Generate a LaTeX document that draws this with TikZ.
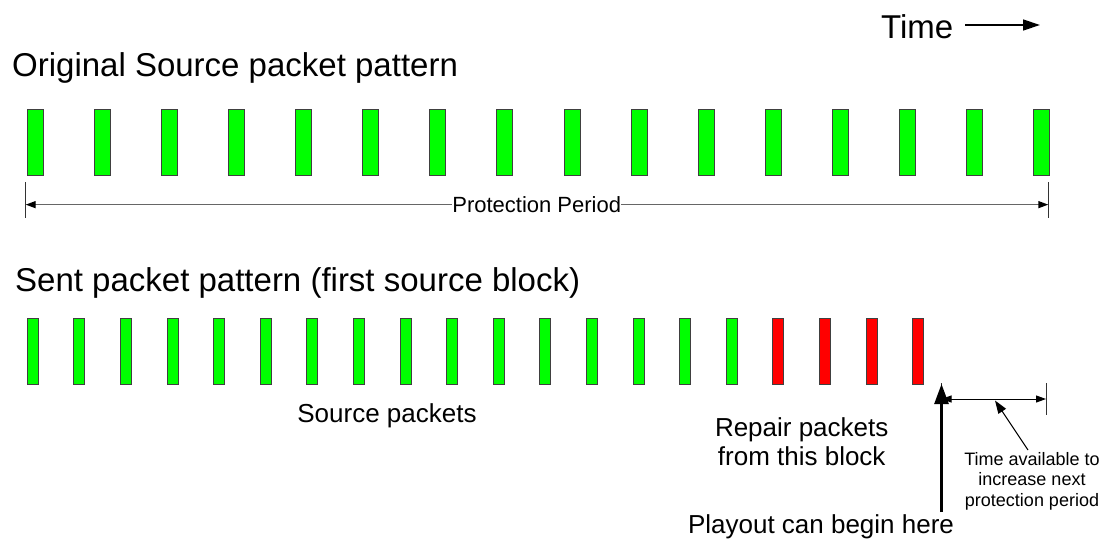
\documentclass[tikz,border=0pt]{standalone}
\usepackage{fontspec}
\setmainfont{Liberation Sans}
\usetikzlibrary{arrows.meta}
\definecolor{pktgreen}{RGB}{0,255,0}
\definecolor{pktred}{RGB}{255,0,0}
\begin{document}
\begin{tikzpicture}[x=1pt,y=-1pt,
  topbox/.style={draw=black!75, line width=1pt, fill=pktgreen, inner sep=0pt, minimum width=16pt, minimum height=66pt},
  gbox/.style={draw=black!75, line width=1pt, fill=pktgreen, inner sep=0pt, minimum width=11pt, minimum height=66pt},
  rbox/.style={draw=black!75, line width=1pt, fill=pktred, inner sep=0pt, minimum width=11pt, minimum height=66pt},
  bigtext/.style={font=\fontsize{33}{38}\selectfont, inner sep=0pt},
  medtext/.style={font=\fontsize{26}{29}\selectfont, inner sep=0pt, align=center},
  pptext/.style={font=\fontsize{22}{25}\selectfont, inner sep=0pt},
  smalltext/.style={font=\fontsize{18}{20.5}\selectfont, inner sep=0pt, align=center},
  tickline/.style={draw=black!80, line width=1pt},
  dimline/.style={draw=black!60, line width=1.4pt},
  bigtip/.style={-{Triangle[length=10pt,width=7pt,black]}},
]
\useasboundingbox (0,0) rectangle (1105,538);

% titles
\node[bigtext, anchor=base west] (ttl1) at (12,76) {Original Source packet pattern};
\node[bigtext, anchor=base west] (ttl2) at (15,291) {Sent packet pattern (first source block)};
\node[bigtext, anchor=base west] (timel) at (881,38) {Time};
\coordinate (ts) at (965,25);
\coordinate (te) at (1040,25);
\draw[line width=1.3pt, -{Triangle[length=17pt,width=11pt]}] (ts) -- (te);

% original pattern
\foreach \i in {1,...,16}
  \node[topbox] (o\i) at ({35.5+67.07*(\i-1)},142.5) {};

% protection period
\coordinate (ltt) at (25.7,182);
\coordinate (ltb) at (25.7,218);
\coordinate (rtt) at (1048.3,182);
\coordinate (rtb) at (1048.3,218);
\draw[tickline] (ltt) -- (ltb);
\draw[tickline] (rtt) -- (rtb);
\node[pptext, anchor=base] (pp) at (536.7,212.5) {Protection Period};
\draw[dimline, bigtip] (pp.west) -- (pp.west -| ltt);
\draw[dimline, bigtip] (pp.east) -- (pp.east -| rtt);

% sent pattern
\foreach \i in {1,...,16}
  \node[gbox] (s\i) at ({32.7+46.6*(\i-1)},351.5) {};
\foreach \i in {17,...,20}
  \node[rbox] (s\i) at ({32.7+46.6*(\i-1)},351.5) {};

\node[medtext, anchor=base] (srcp) at (387,422.5) {Source packets};
\node[medtext, anchor=north] (rep) at (801.7,417.5) {Repair packets\\from this block};
\node[medtext, anchor=base] (play) at (821,533) {Playout can begin here};

% playout arrow and available time
\coordinate (pbot) at (941.5,512);
\coordinate (ptop) at (941.5,384);
\coordinate (at1) at (941.5,383);
\coordinate (at2) at (1046,383);
\coordinate (ab2) at (1046,415);
\draw[tickline] (at1) -- ++(0,20);
\draw[tickline] (at2) -- (ab2);
\draw[line width=1pt, {Triangle[length=10pt,width=7pt]}-{Triangle[length=10pt,width=7pt]}] (941.5,399) -- (at2 |- 0,399);
\draw[line width=2.6pt, -{Triangle[length=20pt,width=14pt]}] (pbot) -- (ptop);

\node[smalltext, anchor=north] (tav) at (1032,452) {Time available to\\increase next\\protection period};
\coordinate (pnt1) at (1028,450);
\coordinate (pnt2) at (995,400.5);
\draw[line width=1pt, -{Triangle[length=13pt,width=9pt]}] (pnt1) -- (pnt2);
\end{tikzpicture}
\end{document}
